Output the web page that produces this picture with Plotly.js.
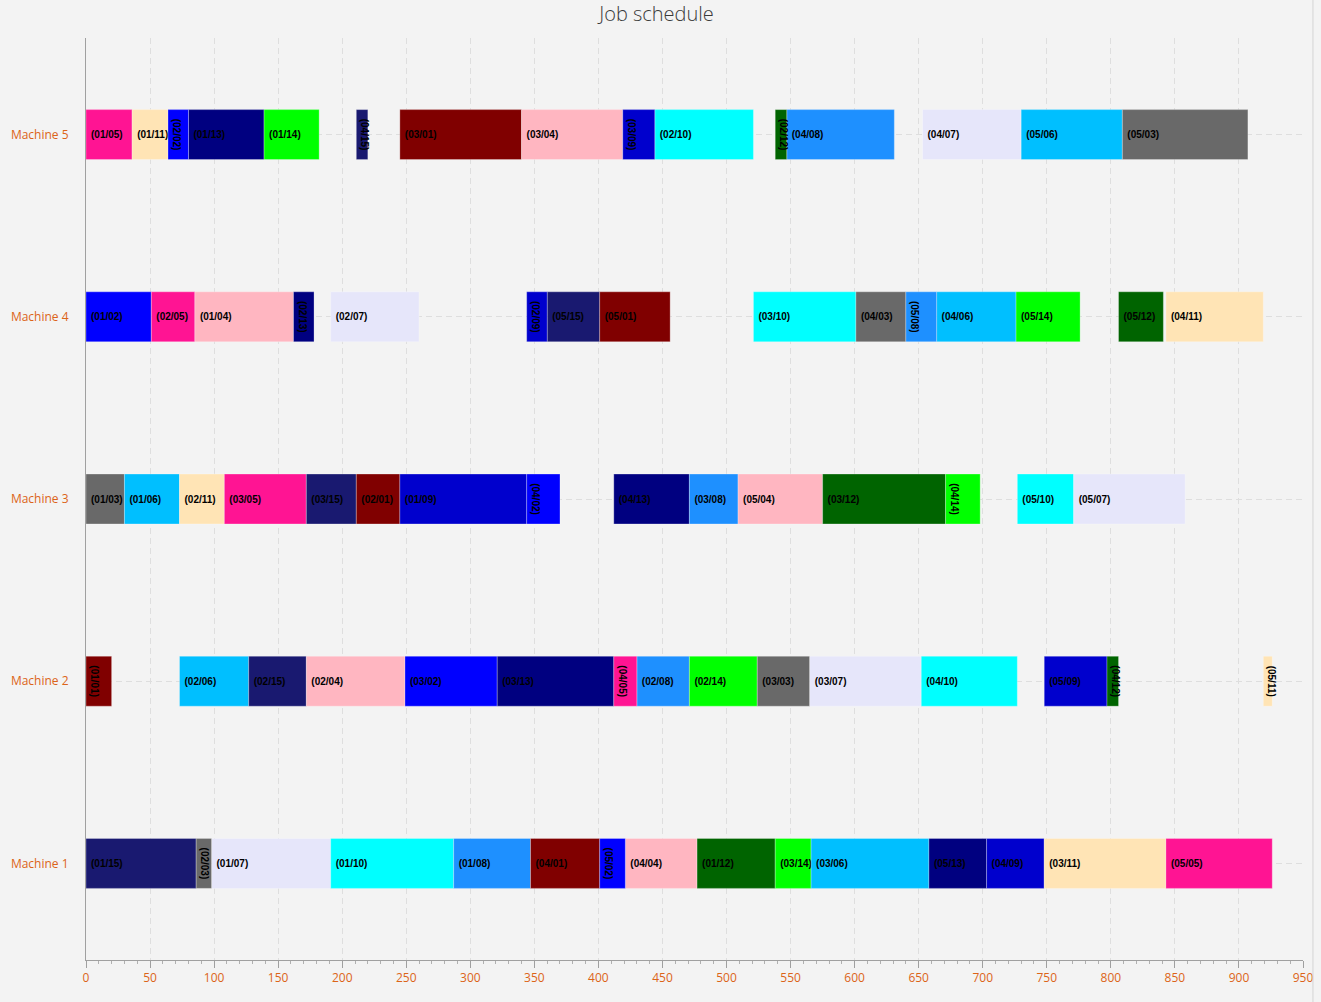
<!DOCTYPE html>
<html>
<head>
<meta charset="utf-8">
<script src="https://cdn.plot.ly/plotly-3.0.1.min.js"></script>
<style>
  html, body { margin: 0; padding: 0; background: #f3f3f3; }
  #chart { width: 1321px; height: 1002px; }
</style>
</head>
<body>
<div id="chart"></div>
<script>
// ---- data ----
const machineNames = ['Machine 1', 'Machine 2', 'Machine 3', 'Machine 4', 'Machine 5'];

// Machine 5
const m5Labels = ['(01/05)','(01/11)','(02/02)','(01/13)','(01/14)','(04/15)','(03/01)','(03/04)','(03/09)','(02/10)','(02/12)','(04/08)','(04/07)','(05/06)','(05/03)'];
const m5Start  = [0, 36, 64, 80, 139, 211, 245, 340, 419, 444, 538, 547, 653, 730, 809];
const m5End    = [36, 64, 80, 139, 182, 220, 340, 419, 444, 521, 547, 631, 730, 809, 907];

// Machine 4
const m4Labels = ['(01/02)','(02/05)','(01/04)','(02/13)','(02/07)','(02/09)','(05/15)','(05/01)','(03/10)','(04/03)','(05/08)','(04/06)','(05/14)','(05/12)','(04/11)'];
const m4Start  = [0, 51, 85, 162, 191, 344, 360, 401, 521, 601, 640, 664, 726, 806, 843];
const m4End    = [51, 85, 162, 178, 260, 360, 401, 456, 601, 640, 664, 726, 776, 841, 919];

// Machine 3
const m3Labels = ['(01/03)','(01/06)','(02/11)','(03/05)','(03/15)','(02/01)','(01/09)','(04/02)','(04/13)','(03/08)','(05/04)','(03/12)','(04/14)','(05/10)','(05/07)'];
const m3Start  = [0, 30, 73, 108, 172, 211, 245, 344, 412, 471, 509, 575, 671, 727, 771];
const m3End    = [30, 73, 108, 172, 211, 245, 344, 370, 471, 509, 575, 671, 698, 771, 858];

// Machine 2
const m2Labels = ['(01/01)','(02/06)','(02/15)','(02/04)','(03/02)','(03/13)','(04/05)','(02/08)','(02/14)','(03/03)','(03/07)','(04/10)','(05/09)','(04/12)','(05/11)'];
const m2Start  = [0, 73, 127, 172, 249, 321, 412, 430, 471, 524, 565, 652, 748, 797, 919];
const m2End    = [20, 127, 172, 249, 321, 412, 430, 471, 524, 565, 652, 727, 797, 806, 926];

// Machine 1
const m1Labels = ['(01/15)','(02/03)','(01/07)','(01/10)','(01/08)','(04/01)','(05/02)','(04/04)','(01/12)','(03/14)','(03/06)','(05/13)','(04/09)','(03/11)','(05/05)'];
const m1Start  = [0, 86, 98, 191, 287, 347, 401, 421, 477, 538, 566, 658, 703, 748, 843];
const m1End    = [86, 98, 191, 287, 347, 401, 421, 477, 538, 566, 658, 703, 748, 843, 926];

// colour per job number (01..15)
const jobColors = ['#800000','#0000FF','#696969','#FFB6C1','#FF1493','#00BFFF','#E6E6FA','#1E90FF',
                   '#0000CD','#00FFFF','#FFE4B5','#006400','#000080','#00FF00','#191970'];

// ---- build traces ----
const rows = [
  [machineNames[4], m5Labels, m5Start, m5End],
  [machineNames[3], m4Labels, m4Start, m4End],
  [machineNames[2], m3Labels, m3Start, m3End],
  [machineNames[1], m2Labels, m2Start, m2End],
  [machineNames[0], m1Labels, m1Start, m1End]
];

function emptyGroup() { return {y: [], base: [], x: [], text: [], color: []}; }
const flat = emptyGroup(), rot = emptyGroup();
rows.forEach(([name, labels, st, en]) => {
  labels.forEach((lab, i) => {
    const dur = en[i] - st[i];
    const isRot = dur < 27.5;
    const g = isRot ? rot : flat;
    const job = parseInt(lab.slice(4, 6), 10);
    g.y.push(name); g.base.push(st[i]); g.x.push(dur);
    g.text.push(isRot ? lab : '\u2009' + lab);
    g.color.push(jobColors[job - 1]);
  });
});

function mkTrace(g, angle) {
  return {
    type: 'bar', orientation: 'h',
    y: g.y, x: g.x, base: g.base, text: g.text,
    textposition: 'inside', insidetextanchor: 'start',
    textangle: angle, constraintext: 'none', cliponaxis: false,
    textfont: {family: 'Liberation Sans, Arial, sans-serif', size: 10, color: '#000000', weight: 'bold'},
    insidetextfont: {family: 'Liberation Sans, Arial, sans-serif', size: 10, color: '#000000', weight: 'bold'},
    marker: {color: g.color, line: {color: 'rgba(255,255,255,0.35)', width: 0.8}},
    hoverinfo: 'skip', showlegend: false
  };
}

const data = [mkTrace(flat, 0), mkTrace(rot, 90)];

const layout = {
  width: 1321, height: 1002,
  margin: {l: 86, r: 18, t: 38, b: 42},
  paper_bgcolor: '#f3f3f3', plot_bgcolor: '#f3f3f3',
  barmode: 'overlay', bargap: 0.726,
  title: {text: 'Job schedule', x: 0.497, xanchor: 'center', yref: 'container', y: 0.986, yanchor: 'middle',
          font: {family: 'Open Sans, Noto Sans, sans-serif', size: 20, color: '#3a3a3a', weight: 300}},
  xaxis: {
    range: [0, 950], dtick: 50, tick0: 0,
    showgrid: true, gridcolor: '#dedede', griddash: '6px,4px', gridwidth: 1,
    zeroline: false, showline: true, linecolor: '#a0a0a0', linewidth: 1,
    ticks: 'outside', ticklen: 7, tickcolor: '#a0a0a0',
    minor: {dtick: 10, ticks: 'outside', ticklen: 3, tickcolor: '#b0b0b0', showgrid: false},
    tickfont: {family: 'Open Sans, Noto Sans, sans-serif', size: 12, color: '#dc6418'}
  },
  yaxis: {
    type: 'category', categoryorder: 'array', categoryarray: machineNames,
    range: [-0.53, 4.53],
    showgrid: true, gridcolor: '#dedede', griddash: '6px,4px', gridwidth: 1,
    zeroline: false, showline: true, linecolor: '#a0a0a0', linewidth: 1,
    ticks: 'outside', ticklen: 14, tickcolor: 'rgba(0,0,0,0)',
    tickfont: {family: 'Open Sans, Noto Sans, sans-serif', size: 12, color: '#dc6418'}
  },
  shapes: [
    {type: 'line', xref: 'paper', yref: 'paper', x0: 1.0082, x1: 1.0082, y0: -0.0456, y1: 1.0412,
     line: {color: '#d4d4d4', width: 1}}
  ]
};

Plotly.newPlot('chart', data, layout, {displayModeBar: false, staticPlot: true});
</script>
</body>
</html>
